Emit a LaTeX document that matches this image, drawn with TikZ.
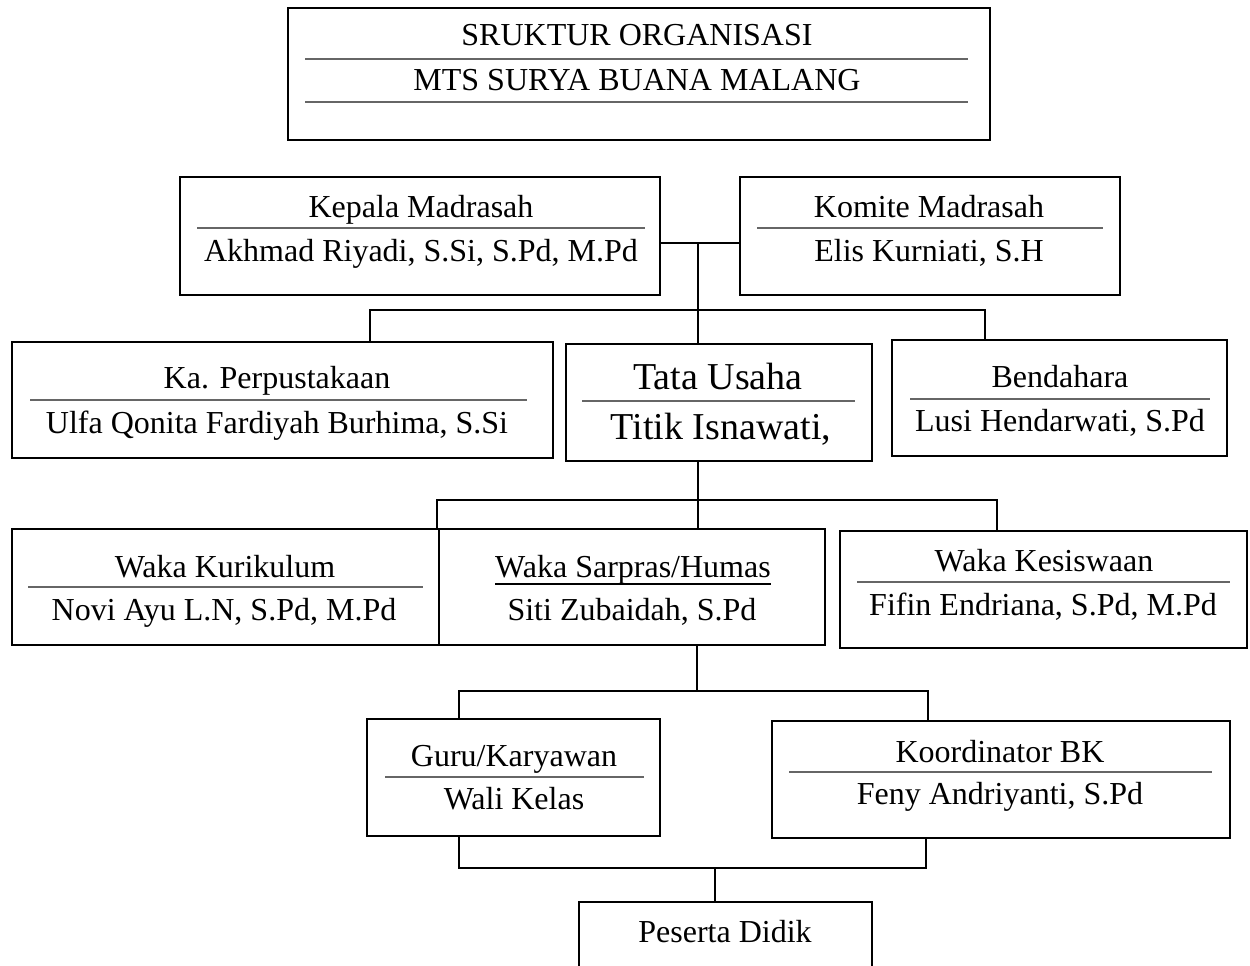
\documentclass[tikz,border=0pt]{standalone}
\usepackage{fontspec}
\setmainfont{Liberation Serif}
\begin{document}
\begin{tikzpicture}[x=1pt,y=-1pt,
  box/.style={draw, line width=2.5pt, rectangle, inner sep=0pt},
  sep/.style={black!60, line width=1.5pt},
  conn/.style={line width=2pt},
  txt/.style={anchor=base, inner sep=0pt, font=\fontsize{32}{36}\selectfont},
  big/.style={anchor=base, inner sep=0pt, font=\fontsize{38}{42}\selectfont}]
\useasboundingbox (0,0) rectangle (1250,966);
\clip (0,0) rectangle (1250,966);
% boxes
\node[box, minimum width=702pt, minimum height=132pt] (title) at (639,74) {};
\node[box, minimum width=480pt, minimum height=118pt] (kepala) at (420,236) {};
\node[box, minimum width=380pt, minimum height=118pt] (komite) at (930,236) {};
\node[box, minimum width=541pt, minimum height=116pt] (perpus) at (282.5,400) {};
\node[box, minimum width=306pt, minimum height=117pt] (tata) at (719,402.5) {};
\node[box, minimum width=335pt, minimum height=116pt] (bend) at (1059.5,398) {};
\node[box, minimum width=427pt, minimum height=116pt] (kurik) at (225.5,587) {};
\node[box, minimum width=386pt, minimum height=116pt] (sarpras) at (632,587) {};
\node[box, minimum width=407pt, minimum height=117pt] (kesis) at (1043.5,589.5) {};
\node[box, minimum width=293pt, minimum height=117pt] (guru) at (513.5,777.5) {};
\node[box, minimum width=458pt, minimum height=117pt] (koord) at (1001,779.5) {};
\node[box, minimum width=293pt, minimum height=140pt] (peserta) at (725.5,972) {};
% texts
\node[txt] (t1) at (637,46) {SRUKTUR ORGANISASI};
\draw[sep] (305,59) -- (968,59);
\node[txt] (t2) at (637,90) {MTS SURYA BUANA MALANG};
\draw[sep] (305,102) -- (968,102);

\node[txt] (kepa) at (421,217) {Kepala Madrasah};
\draw[sep] (197,228) -- (645,228);
\node[txt] (kepb) at (421,261) {Akhmad Riyadi, S.Si, S.Pd, M.Pd};

\node[txt] (koma) at (929,217) {Komite Madrasah};
\draw[sep] (757,228) -- (1103,228);
\node[txt] (komb) at (929,261) {Elis Kurniati, S.H};

\node[txt] (pera) at (277,388) {Ka. Perpustakaan};
\draw[sep] (30,400) -- (527,400);
\node[txt] (perb) at (277,433) {Ulfa Qonita Fardiyah Burhima, S.Si};

\node[big] (tata1) at (718,389) {Tata Usaha};
\draw[sep] (582,401) -- (855,401);
\node[big] (tata2) at (721,439) {Titik Isnawati,};

\node[txt] (benda) at (1060,387) {Bendahara};
\draw[sep] (910,399) -- (1210,399);
\node[txt] (bendb) at (1060,431) {Lusi Hendarwati, S.Pd};

\node[txt] (kura) at (225,577) {Waka Kurikulum};
\draw[sep] (28,587) -- (423,587);
\node[txt] (kurb) at (224,620) {Novi Ayu L.N, S.Pd, M.Pd};

\node[txt] (sara) at (633,577) {Waka Sarpras/Humas};
\draw[line width=2pt] (sara.west |- 0,584) -- (sara.east |- 0,584);
\node[txt] (sarb) at (632,620) {Siti Zubaidah, S.Pd};

\node[txt] (kesa) at (1044,571) {Waka Kesiswaan};
\draw[sep] (857,582) -- (1230,582);
\node[txt] (kesb) at (1043,615) {Fifin Endriana, S.Pd, M.Pd};

\node[txt] (gura) at (514,766) {Guru/Karyawan};
\draw[sep] (385,777) -- (644,777);
\node[txt] (gurb) at (514,809) {Wali Kelas};

\node[txt] (kora) at (1000,762) {Koordinator BK};
\draw[sep] (789,772) -- (1212,772);
\node[txt] (korb) at (1000,804) {Feny Andriyanti, S.Pd};

\node[txt] (pesa) at (725,942) {Peserta Didik};
% connectors
\coordinate (j1) at (698,243);
\coordinate (b1L) at (370,310);
\coordinate (b1R) at (985,310);
\draw[conn] (kepala.east |- j1) -- (komite.west |- j1);
\draw[conn] (j1) -- (j1 |- tata.north);
\draw[conn] (b1L |- perpus.north) -- (b1L) -- (b1R) -- (b1R |- bend.north);

\coordinate (j2) at (698,500);
\coordinate (b2L) at (437,500);
\coordinate (b2R) at (997,500);
\draw[conn] (j2 |- tata.south) -- (j2 |- sarpras.north);
\draw[conn] (b2L |- kurik.north) -- (b2L) -- (b2R) -- (b2R |- kesis.north);

\coordinate (j3) at (697,691);
\coordinate (b3L) at (459,691);
\coordinate (b3R) at (928,691);
\draw[conn] (j3 |- sarpras.south) -- (j3);
\draw[conn] (b3L |- guru.north) -- (b3L) -- (b3R) -- (b3R |- koord.north);

\coordinate (b4L) at (459,868);
\coordinate (b4R) at (926,868);
\coordinate (j4) at (715,868);
\draw[conn] (b4L |- guru.south) -- (b4L) -- (b4R) -- (b4R |- koord.south);
\draw[conn] (j4) -- (j4 |- peserta.north);
\end{tikzpicture}
\end{document}
